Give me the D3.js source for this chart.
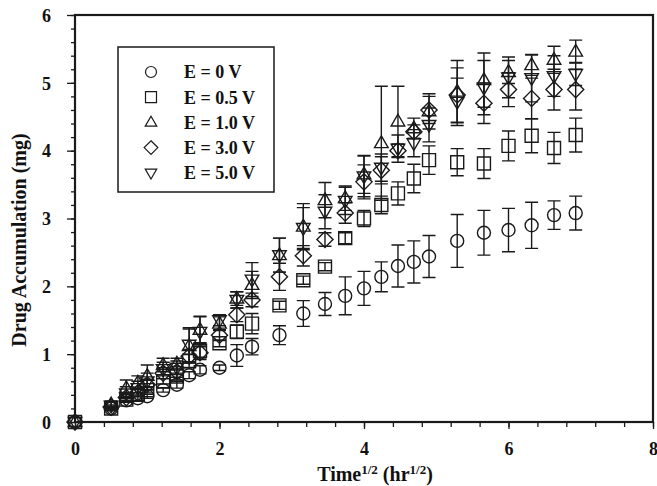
<!DOCTYPE html>
<html>
<head>
<meta charset="utf-8">
<script src="https://cdn.jsdelivr.net/npm/d3@7/dist/d3.min.js"></script>
<style>
  html, body { margin: 0; padding: 0; background: #fff; }
  svg { display: block; }
  text { font-family: "Liberation Serif", "Times New Roman", serif; font-weight: bold; fill: #111; }
</style>
</head>
<body>
<svg id="chart" width="657" height="486"></svg>
<script>
// Square root of sampling time (hr^1/2)
const sqrtTime = [0, 0.5, 0.71, 0.87, 1, 1.22, 1.41, 1.58, 1.73, 2, 2.24, 2.45, 2.83, 3.16,
  3.46, 3.74, 4, 4.24, 4.47, 4.69, 4.9, 5.29, 5.66, 6, 6.32, 6.63, 6.93];

// Cumulative drug amount (mg) for each applied potential, with standard deviations
const e0Mean = [0, 0.20, 0.32, 0.35, 0.38, 0.47, 0.55, 0.69, 0.77, 0.80, 0.98, 1.11, 1.28, 1.60,
  1.74, 1.86, 1.97, 2.14, 2.30, 2.36, 2.44, 2.67, 2.79, 2.83, 2.90, 3.05, 3.08];
const e0Sd = [0, 0.03, 0.03, 0.03, 0.03, 0.03, 0.05, 0.05, 0.06, 0.04, 0.16, 0.12, 0.14, 0.19,
  0.17, 0.28, 0.25, 0.22, 0.31, 0.31, 0.31, 0.39, 0.33, 0.32, 0.34, 0.21, 0.25];

const e05Mean = [0, 0.20, 0.33, 0.40, 0.47, 0.60, 0.67, 0.90, 1.05, 1.16, 1.33, 1.45, 1.72, 2.09,
  2.29, 2.71, 3.00, 3.20, 3.37, 3.59, 3.86, 3.83, 3.81, 4.07, 4.22, 4.04, 4.23];
const e05Sd = [0, 0.03, 0.03, 0.03, 0.04, 0.04, 0.05, 0.10, 0.12, 0.05, 0.10, 0.15, 0.06, 0.06,
  0.06, 0.08, 0.12, 0.13, 0.17, 0.21, 0.21, 0.20, 0.22, 0.22, 0.25, 0.23, 0.25];

const e1Mean = [0, 0.26, 0.50, 0.58, 0.68, 0.84, 0.86, 1.12, 1.36, 1.45, 1.82, 2.02, 2.46, 2.88,
  3.27, 3.30, 3.65, 4.11, 4.43, 4.33, 4.58, 4.87, 5.04, 5.16, 5.26, 5.34, 5.46];
const e1Sd = [0, 0.05, 0.12, 0.10, 0.16, 0.10, 0.08, 0.25, 0.20, 0.10, 0.10, 0.20, 0.25, 0.34,
  0.26, 0.18, 0.28, 0.84, 0.52, 0.15, 0.26, 0.46, 0.40, 0.17, 0.15, 0.20, 0.17];

const e3Mean = [0, 0.22, 0.36, 0.43, 0.55, 0.72, 0.74, 0.97, 1.02, 1.28, 1.58, 1.80, 2.14, 2.45,
  2.69, 3.08, 3.54, 3.71, 4.00, 4.28, 4.60, 4.82, 4.70, 4.90, 4.77, 4.90, 4.90];
const e3Sd = [0, 0.03, 0.05, 0.05, 0.08, 0.08, 0.08, 0.10, 0.10, 0.08, 0.10, 0.10, 0.20, 0.15,
  0.10, 0.15, 0.25, 0.20, 0.10, 0.10, 0.20, 0.40, 0.30, 0.25, 0.30, 0.30, 0.30];

const e5Mean = [0, 0.24, 0.42, 0.50, 0.60, 0.78, 0.80, 1.14, 1.33, 1.50, 1.80, 2.10, 2.46, 2.86,
  3.10, 3.26, 3.62, 3.75, 4.03, 4.11, 4.38, 4.72, 4.93, 5.08, 5.07, 5.10, 5.13];
const e5Sd = [0, 0.05, 0.10, 0.10, 0.12, 0.10, 0.10, 0.25, 0.22, 0.08, 0.12, 0.25, 0.25, 0.30,
  0.25, 0.20, 0.30, 0.20, 0.20, 0.20, 0.25, 0.35, 0.40, 0.30, 0.35, 0.30, 0.17];

const seriesLabels = ["E = 0 V", "E = 0.5 V", "E = 1.0 V", "E = 3.0 V", "E = 5.0 V"];
const seriesShapes = ["circle", "square", "triangle", "diamond", "triangleDown"];

const xTicks = [0, 2, 4, 6, 8];
const yTicks = [0, 1, 2, 3, 4, 5, 6];

const series = [
  { mean: e0Mean, sd: e0Sd },
  { mean: e05Mean, sd: e05Sd },
  { mean: e1Mean, sd: e1Sd },
  { mean: e3Mean, sd: e3Sd },
  { mean: e5Mean, sd: e5Sd }
].map((s, i) => ({ ...s, label: seriesLabels[i], shape: seriesShapes[i] }));

const svg = d3.select("#chart");
const margin = { left: 75, right: 4, top: 15, bottom: 64 };
const W = 657, H = 486;
const x = d3.scaleLinear().domain([0, 8]).range([margin.left, W - margin.right]);
const y = d3.scaleLinear().domain([0, 6]).range([H - margin.bottom, margin.top]);
const ink = "#1a1a1a";

// Marker path generators, centred at the origin
function shapePath(shape, s) {
  switch (shape) {
    case "circle": return d3.symbol(d3.symbolCircle, s * s * Math.PI / 4)();
    case "square": return `M${-s/2},${-s/2}H${s/2}V${s/2}H${-s/2}Z`;
    case "diamond": { const h = s * 0.62; return `M0,${-h}L${h},0L0,${h}L${-h},0Z`; }
    case "triangle": { const h = s * 0.9; return `M0,${-h*0.62}L${h*0.58},${h*0.38}L${-h*0.58},${h*0.38}Z`; }
    case "triangleDown": { const h = s * 0.9; return `M0,${h*0.62}L${h*0.58},${-h*0.38}L${-h*0.58},${-h*0.38}Z`; }
  }
}

// Minor ticks
const gx = svg.append("g").attr("transform", `translate(0,${y(0)})`)
  .call(d3.axisBottom(x).tickValues(d3.range(0, 8.01, 0.4)).tickSize(5).tickFormat(""));
const gy = svg.append("g").attr("transform", `translate(${x(0)},0)`)
  .call(d3.axisLeft(y).tickValues(d3.range(0, 6.01, 0.2)).tickSize(4).tickFormat(""));
// Major ticks with labels
const gx2 = svg.append("g").attr("transform", `translate(0,${y(0)})`)
  .call(d3.axisBottom(x).tickValues(xTicks).tickSize(7).tickPadding(13).tickFormat(d3.format("d")));
const gy2 = svg.append("g").attr("transform", `translate(${x(0)},0)`)
  .call(d3.axisLeft(y).tickValues(yTicks).tickSize(8).tickPadding(16).tickFormat(d3.format("d")));

[gx, gy, gx2, gy2].forEach(g => {
  g.select(".domain").remove();
  g.selectAll(".tick line").attr("stroke", ink).attr("stroke-width", 1.3);
  g.selectAll(".tick text").style("font-size", "18px").attr("fill", ink);
});
gy2.selectAll(".tick text").attr("dy", "0.35em");

// Plot frame
svg.append("rect")
  .attr("x", x(0)).attr("y", y(6))
  .attr("width", x(8) - x(0)).attr("height", y(0) - y(6))
  .attr("fill", "none").attr("stroke", ink).attr("stroke-width", 2.2);

// Error bars and markers
const plot = svg.append("g");
series.forEach(s => {
  const g = plot.append("g");
  sqrtTime.forEach((t, i) => {
    const m = s.mean[i], e = s.sd[i];
    if (e > 0) {
      const cx = x(t), y1 = y(m + e), y2 = y(m - e), cw = 6.5;
      g.append("path")
        .attr("d", `M${cx},${y1}V${y2}M${cx - cw},${y1}H${cx + cw}M${cx - cw},${y2}H${cx + cw}`)
        .attr("stroke", ink).attr("stroke-width", 1.4).attr("fill", "none");
    }
    g.append("path")
      .attr("d", shapePath(s.shape, 13))
      .attr("transform", `translate(${x(t)},${y(m)})`)
      .attr("fill", "none").attr("stroke", ink).attr("stroke-width", 1.4);
  });
});

// Legend
const lg = svg.append("g");
lg.append("rect").attr("x", 118).attr("y", 47).attr("width", 156).attr("height", 145)
  .attr("fill", "#fff").attr("stroke", ink).attr("stroke-width", 1.5);
series.forEach((s, i) => {
  const ry = 72 + i * 25.2;
  lg.append("path").attr("d", shapePath(s.shape, 11))
    .attr("transform", `translate(151,${ry})`)
    .attr("fill", "none").attr("stroke", ink).attr("stroke-width", 1.2);
  lg.append("text").attr("x", 184).attr("y", ry).attr("dy", "0.35em")
    .style("font-size", "18px").text(s.label);
});

// Axis titles
const xt = svg.append("text").attr("x", 375).attr("y", 481).attr("text-anchor", "middle")
  .style("font-size", "20px");
xt.append("tspan").text("Time");
xt.append("tspan").attr("dy", -7).style("font-size", "13px").text("1/2");
xt.append("tspan").attr("dy", 7).text(" (hr");
xt.append("tspan").attr("dy", -7).style("font-size", "13px").text("1/2");
xt.append("tspan").attr("dy", 7).text(")");

svg.append("text")
  .attr("transform", "translate(26,240) rotate(-90)")
  .attr("text-anchor", "middle").style("font-size", "20px")
  .text("Drug Accumulation (mg)");
</script>
</body>
</html>
